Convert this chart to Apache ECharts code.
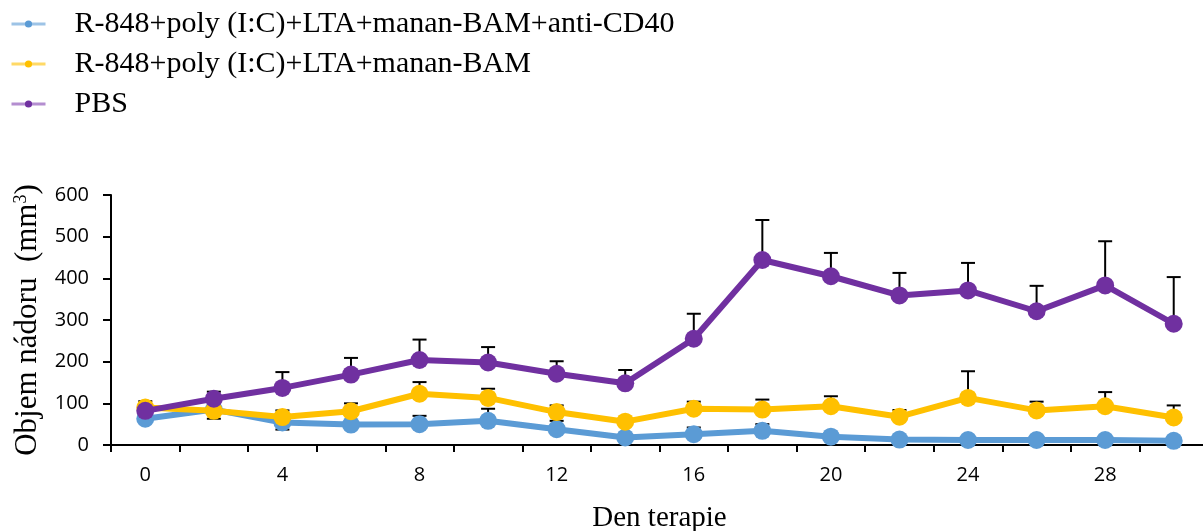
<!DOCTYPE html>
<html>
<head>
<meta charset="utf-8">
<script src="https://cdn.jsdelivr.net/npm/echarts@6/dist/echarts.min.js"></script>
<style>
  html, body { margin: 0; padding: 0; background: #fff; }
  #chart { width: 1203px; height: 531px; }
</style>
</head>
<body>
<div id="chart"></div>
<script>
// den terapie (kategorie)
var days = ['0', '2', '4', '6', '8', '10', '12', '14', '16', '18', '20', '22', '24', '26', '28', '30']
var seriesNames = [
  'R-848+poly (I:C)+LTA+manan-BAM+anti-CD40',
  'R-848+poly (I:C)+LTA+manan-BAM',
  'PBS'
]
var yTicks = [0, 100, 200, 300, 400, 500, 600]

// objem nadoru, prumer
var blueMean = [63, 85, 54, 49, 50, 58, 38, 18, 26, 34, 20, 13, 12, 12, 12, 10]
var yellowMean = [90, 82, 67, 81, 123, 113, 79, 56, 87, 85, 93, 68, 113, 83, 93, 66]
var purpleMean = [82, 111, 137, 169, 204, 198, 171, 148, 255, 444, 405, 359, 371, 321, 383, 291]

// chybove usecky (nahoru / dolu)
var blueErrUp = [0, 0, 0, 0, 20, 29, 20, 6, 16, 16, 0, 0, 0, 0, 0, 0]
var blueErrDown = [0, 0, 17, 0, 0, 0, 0, 0, 0, 0, 0, 0, 0, 0, 0, 0]
var yellowErrUp = [15, 13, 16, 19, 28, 22, 16, 0, 17, 24, 24, 16, 64, 21, 34, 29]
var yellowErrDown = [0, 19, 0, 0, 0, 0, 0, 0, 0, 0, 0, 0, 0, 0, 0, 0]
var purpleErrUp = [0, 17, 38, 40, 49, 37, 30, 32, 60, 96, 56, 54, 66, 61, 106, 112]
var purpleErrDown = [0, 0, 0, 0, 0, 0, 0, 0, 0, 0, 0, 0, 0, 0, 0, 0]

var colors = ['#5B9BD5', '#FFC000', '#7030A0']
var legendLineColors = ['#9DC3E6', '#FFD966', '#B48ED0']

function errData(mean, up, down) {
  var out = []
  for (var i = 0; i < mean.length; i++) {
    if (up[i] > 0 || down[i] > 0) {
      out.push([i, mean[i] - down[i], mean[i] + up[i], mean[i]])
    }
  }
  return out
}

function renderErr(params, api) {
  var x = api.value(0)
  var lo = api.coord([x, api.value(1)])
  var hi = api.coord([x, api.value(2)])
  var mid = api.coord([x, api.value(3)])
  var half = 7
  var style = { stroke: '#000', lineWidth: 2 }
  var children = []
  if (hi[1] < mid[1]) {
    children.push({ type: 'line', shape: { x1: hi[0], y1: hi[1], x2: mid[0], y2: mid[1] }, style: style })
    children.push({ type: 'line', shape: { x1: hi[0] - half, y1: hi[1], x2: hi[0] + half, y2: hi[1] }, style: style })
  }
  if (lo[1] > mid[1]) {
    children.push({ type: 'line', shape: { x1: lo[0], y1: lo[1], x2: mid[0], y2: mid[1] }, style: style })
    children.push({ type: 'line', shape: { x1: lo[0] - half, y1: lo[1], x2: lo[0] + half, y2: lo[1] }, style: style })
  }
  return { type: 'group', children: children }
}

function lineSeries(idx, data) {
  return {
    name: seriesNames[idx],
    type: 'line',
    data: data,
    symbol: 'circle',
    symbolSize: 18,
    z: 3 + idx,
    lineStyle: { color: colors[idx], width: 6 },
    itemStyle: { color: colors[idx] },
    animation: false
  }
}

function errSeries(data) {
  return {
    type: 'custom',
    renderItem: renderErr,
    data: data,
    encode: { x: 0, y: [1, 2] },
    z: 2,
    silent: true,
    animation: false
  }
}

var chart = echarts.init(document.getElementById('chart'))
chart.setOption({
  backgroundColor: '#fff',
  legend: {
    orient: 'vertical',
    left: 5,
    top: 4,
    itemWidth: 34,
    itemHeight: 9,
    itemGap: 10,
    data: seriesNames.map(function(n, i) {
      return {
        name: n,
        itemStyle: { color: colors[i] },
        lineStyle: { color: legendLineColors[i], width: 3 }
      }
    }),
    textStyle: { fontFamily: 'Liberation Serif', fontSize: 30, color: '#000', lineHeight: 30, padding: [0, 0, 0, 24] }
  },
  grid: { left: 111, top: 195, width: 1097, height: 250, outerBoundsMode: 'none', containLabel: false },
  xAxis: {
    type: 'category',
    data: days,
    boundaryGap: true,
    name: 'Den terapie',
    nameLocation: 'middle',
    nameGap: 59,
    nameTextStyle: { fontFamily: 'Liberation Serif', fontSize: 29, color: '#000' },
    axisLine: { lineStyle: { color: '#000', width: 2 } },
    axisTick: { show: true, interval: 0, length: 7, lineStyle: { color: '#000', width: 2 } },
    axisLabel: { interval: 1, margin: 20, fontFamily: 'Open Sans, sans-serif', fontSize: 20, color: '#000' },
    splitLine: { show: false }
  },
  yAxis: {
    type: 'value',
    min: yTicks[0],
    max: yTicks[yTicks.length - 1],
    interval: 100,
    name: 'Objem nádoru  (mm{sup|3})',
    nameLocation: 'middle',
    nameRotate: 90,
    nameGap: 65,
    nameTextStyle: {
      fontFamily: 'Liberation Serif', fontSize: 31, color: '#000',
      rich: { sup: { fontFamily: 'Liberation Serif', fontSize: 18, color: '#000', verticalAlign: 'top', padding: [0, 0, 14, 0] } }
    },
    axisLine: { show: true, lineStyle: { color: '#000', width: 2 } },
    axisTick: { show: true, length: 8, lineStyle: { color: '#000', width: 2 } },
    axisLabel: { margin: 22, fontFamily: 'Open Sans, sans-serif', fontSize: 20, color: '#000' },
    splitLine: { show: false }
  },
  series: [
    errSeries(errData(blueMean, blueErrUp, blueErrDown)),
    errSeries(errData(yellowMean, yellowErrUp, yellowErrDown)),
    errSeries(errData(purpleMean, purpleErrUp, purpleErrDown)),
    lineSeries(0, blueMean),
    lineSeries(1, yellowMean),
    lineSeries(2, purpleMean)
  ]
})
</script>
</body>
</html>
